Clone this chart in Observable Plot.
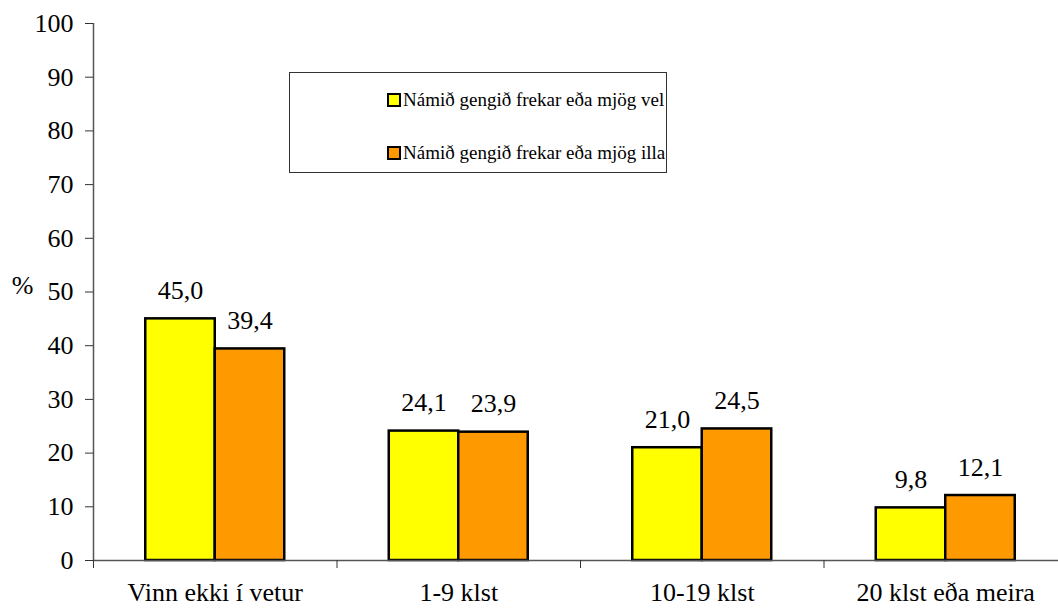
<!DOCTYPE html>
<html>
<head>
<meta charset="utf-8">
<script src="https://cdn.jsdelivr.net/npm/d3@7"></script>
<script src="https://cdn.jsdelivr.net/npm/@observablehq/plot@0.6"></script>
<style>
  body { margin: 0; background: #fff; font-family: 'Liberation Serif'; }
  #wrap { position: relative; width: 1058px; height: 611px; font-family: 'Liberation Serif'; }
  #legend { position: absolute; left: 289px; top: 72px; width: 378px; height: 101px; border: 1.5px solid #333; box-sizing: border-box; background: #fff; }
  .item { position: absolute; left: 97px; display: flex; align-items: center; font-size: 19px; color: #000; white-space: nowrap; line-height: 1; font-family: 'Liberation Serif'; }
  .sw { width: 10px; height: 10px; border: 2px solid #000; margin-right: 2px; }
  svg, svg text { font-family: 'Liberation Serif' !important; }
</style>
</head>
<body>
<div id="wrap">
  <div id="chart"></div>
  <div id="legend"></div>
</div>
<script>
const categories = ["Vinn ekki í vetur", "1-9 klst", "10-19 klst", "20 klst eða meira"];
const seriesNames = ["Námið gengið frekar eða mjög vel", "Námið gengið frekar eða mjög illa"];
const wellValues = [45.0, 24.1, 21.0, 9.8];
const poorlyValues = [39.4, 23.9, 24.5, 12.1];
const yTicks = [0, 10, 20, 30, 40, 50, 60, 70, 80, 90, 100];
const seriesColors = ["#FFFF00", "#FF9900"];

const data = categories.flatMap((c, i) => [
  {cat: c, i, s: 0, value: wellValues[i]},
  {cat: c, i, s: 1, value: poorlyValues[i]}
]);

const barW = 0.2854;
const fmt = v => v.toFixed(1).replace(".", ",");
const FONT = "Liberation Serif";

const plot = Plot.plot({
  width: 1058,
  height: 611,
  marginLeft: 93,
  marginRight: 0,
  marginTop: 23,
  marginBottom: 51,
  style: {fontFamily: FONT, fontSize: "26px", color: "#000", background: "#fff"},
  x: {domain: [0, categories.length], range: [93, 1067]},
  y: {domain: [0, 100]},
  color: {domain: seriesNames, range: seriesColors},
  marks: [
    Plot.rectY(data, {
      x1: d => d.i + 0.5 + (d.s - 1) * barW,
      x2: d => d.i + 0.5 + d.s * barW,
      y: "value",
      fill: d => seriesNames[d.s],
      stroke: "#000",
      strokeWidth: 2.5
    }),
    Plot.text(data, {
      x: d => d.i + 0.5 + (d.s - 0.5) * barW,
      y: "value",
      text: d => fmt(d.value),
      dy: -28,
      fontSize: 26,
      fontFamily: FONT,
      fill: "#000"
    }),
    Plot.ruleY([0], {stroke: "#555", strokeWidth: 1.5}),
    Plot.ruleX([0], {y1: 0, y2: 100, stroke: "#555", strokeWidth: 1.5}),
    Plot.axisY({ticks: yTicks, tickSize: 8, tickPadding: 12, fontSize: 26, fontFamily: FONT, label: null, stroke: "#333"}),
    Plot.axisX({ticks: d3.range(categories.length + 1), tickSize: 8, tickFormat: () => "", label: null, stroke: "#333"}),
    Plot.axisX({ticks: categories.map((c, i) => i + 0.5), tickSize: 0, tickPadding: 22, tickFormat: v => categories[Math.floor(v)], fontSize: 26, fontFamily: FONT, label: null}),
    Plot.text(["%"], {text: d => d, frameAnchor: "left", dx: -60, dy: -6, textAnchor: "end", fontSize: 26, fontFamily: FONT, fill: "#000"})
  ]
});
document.getElementById("chart").appendChild(plot);

const legend = document.getElementById("legend");
seriesNames.forEach((name, k) => {
  const item = document.createElement("div");
  item.className = "item";
  item.style.top = (k === 0 ? 17 : 70) + "px";
  const sw = document.createElement("div");
  sw.className = "sw";
  sw.style.background = seriesColors[k];
  item.appendChild(sw);
  const t = document.createElement("span");
  t.textContent = name;
  item.appendChild(t);
  legend.appendChild(item);
});
</script>
</body>
</html>
